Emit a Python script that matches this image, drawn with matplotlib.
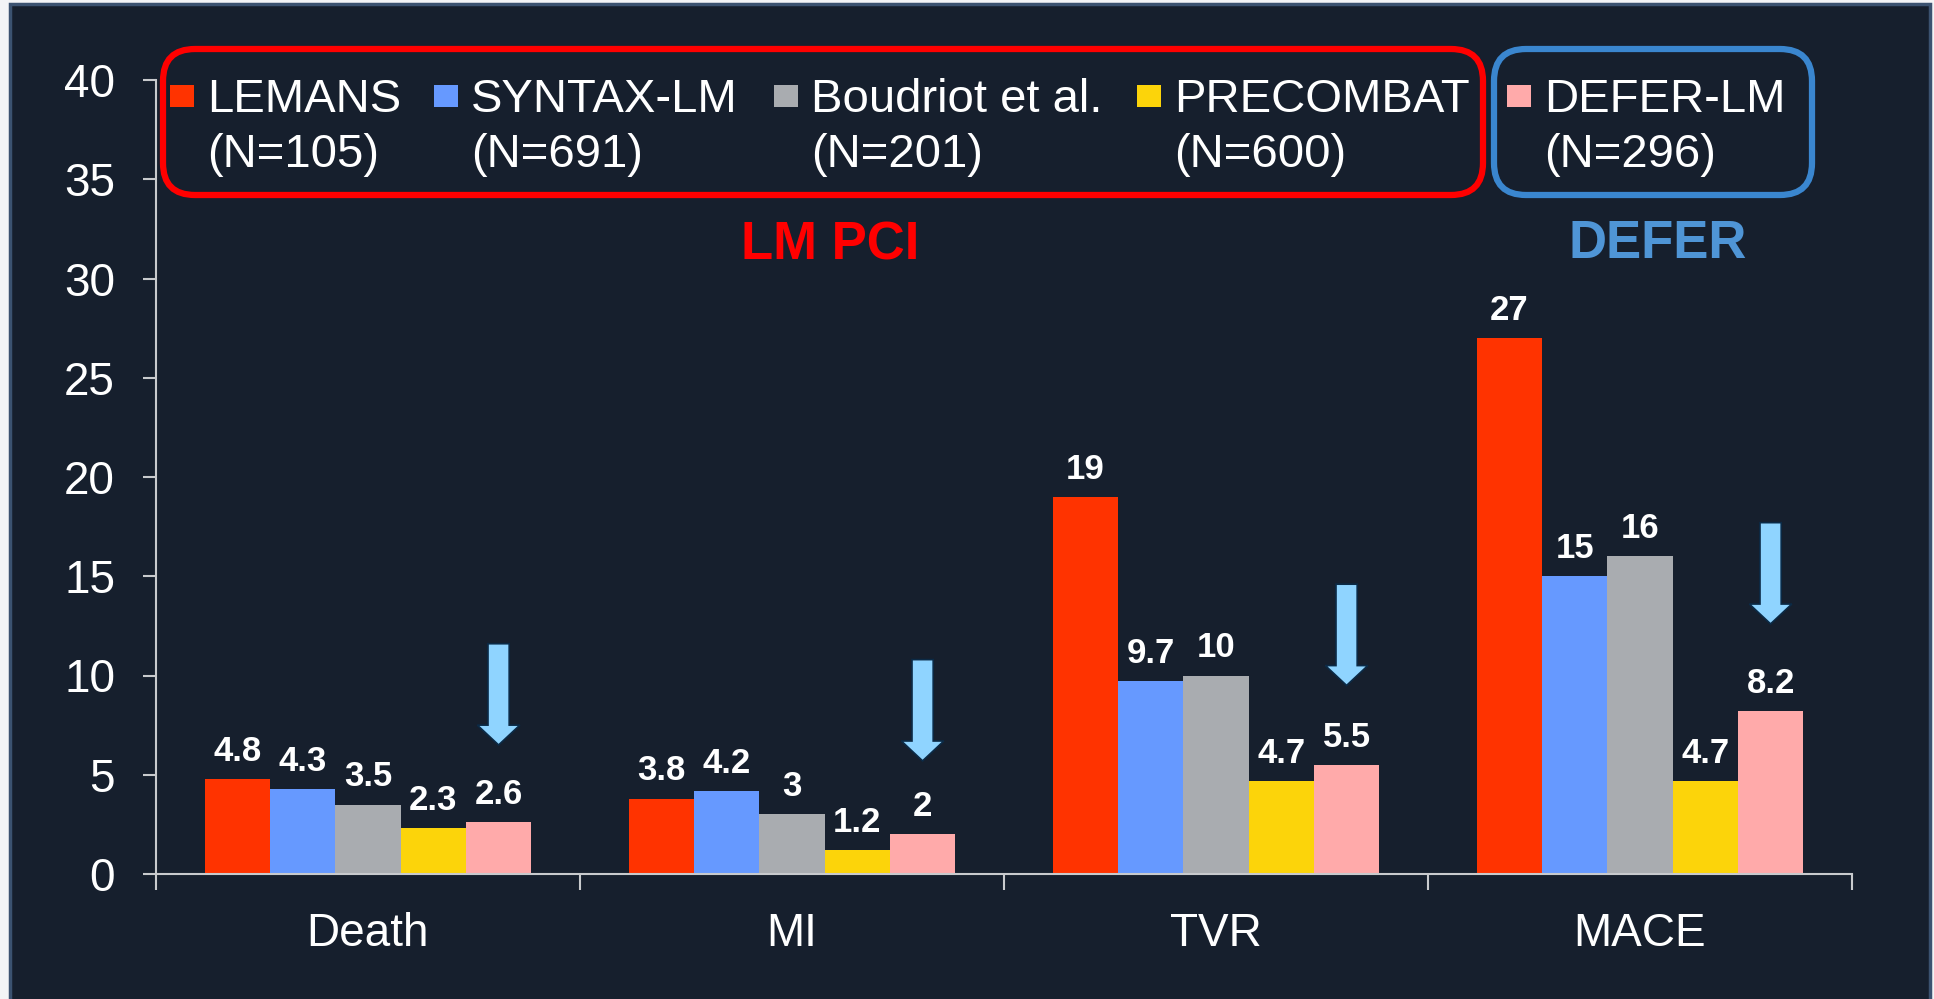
import matplotlib.pyplot as plt
import numpy as np
from matplotlib.patches import Rectangle, FancyBboxPatch, FancyArrow

plt.rcParams['font.family'] = ['Liberation Sans', 'DejaVu Sans']

categories = ["Death", "MI", "TVR", "MACE"]
studies = ["LEMANS", "SYNTAX-LM", "Boudriot et al.", "PRECOMBAT", "DEFER-LM"]
sizes = ["(N=105)", "(N=691)", "(N=201)", "(N=600)", "(N=296)"]
lemans = [4.8, 3.8, 19, 27]
syntax = [4.3, 4.2, 9.7, 15]
boudriot = [3.5, 3.0, 10, 16]
precombat = [2.3, 1.2, 4.7, 4.7]
defer = [2.6, 2.0, 5.5, 8.2]
arrow_tips = [6.5, 5.7, 9.5, 12.6]   # where the blue arrows point to

colors = ["#ff3300", "#6699ff", "#a9acb0", "#fcd40a", "#ffaaaa"]
bg = "#161f2d"
W, H = 1934, 999

fig = plt.figure(figsize=(W / 100, H / 100), dpi=100)
fig.patch.set_facecolor("#f3f4f6")
# dark slide panel behind everything
fig.add_artist(Rectangle((10 / W, -0.01), 1920 / W, 1 - 4 / H + 0.01, transform=fig.transFigure,
                         facecolor=bg, edgecolor="#3b5270", linewidth=2.5, zorder=-1))

ax = fig.add_axes([156 / W, 1 - 874 / H, (1852 - 156) / W, (874 - 80) / H])
ax.set_facecolor("none")

x = np.arange(len(categories))
bw = 0.154
series = [lemans, syntax, boudriot, precombat, defer]
for i, vals in enumerate(series):
    bars = ax.bar(x + (i - 2) * bw, vals, bw, color=colors[i], zorder=2)
    ax.bar_label(bars, fmt="%g", padding=8, color="white", fontsize=25, fontweight="bold")

# arrows above DEFER-LM bars
for xi, tip in zip(x + 2 * bw, arrow_tips):
    ax.add_patch(FancyArrow(xi, tip + 5.1, 0, -5.1, width=0.05, head_width=0.1, head_length=1.0,
                            length_includes_head=True, facecolor="#8fd4ff", edgecolor="#0b2a46",
                            linewidth=1.2, zorder=3))

ax.set_xlim(-0.5, 3.5)
ax.set_ylim(0, 40)
ax.set_yticks(np.arange(0, 41, 5))
ax.set_xticks(x)
ax.set_xticklabels(categories)
ax.set_xticks(np.arange(-0.5, 3.6, 1), minor=True)
for s in ["top", "right"]:
    ax.spines[s].set_visible(False)
for s in ["left", "bottom"]:
    ax.spines[s].set_color("#c8cacd")
    ax.spines[s].set_linewidth(1.5)
ax.tick_params(axis="y", colors="#c8cacd", labelcolor="white", labelsize=33, length=9.5, width=1.5, pad=20)
ax.tick_params(axis="x", which="major", length=0, labelcolor="white", labelsize=33, pad=27)
ax.tick_params(axis="x", which="minor", colors="#c8cacd", length=11.5, width=1.5)

# overlay in pixel coordinates for the grouped legend
ov = fig.add_axes([0, 0, 1, 1], zorder=5)
ov.set_xlim(0, W)
ov.set_ylim(H, 0)
ov.axis("off")
ov.add_patch(FancyBboxPatch((163, 49), 1320, 146, boxstyle="round,pad=0,rounding_size=32",
                            facecolor="none", edgecolor="#ff0000", linewidth=4.5))
ov.add_patch(FancyBboxPatch((1494, 49), 318, 146, boxstyle="round,pad=0,rounding_size=32",
                            facecolor="none", edgecolor="#3a86cf", linewidth=4.5))
sq_x = [170, 434, 774, 1137, 1507]
for sx, c, name, n in zip(sq_x, colors, studies, sizes):
    ov.add_patch(Rectangle((sx, 85), 24, 22, facecolor=c, edgecolor="none"))
    ov.text(sx + 37, 112, name, color="white", fontsize=34, va="baseline", ha="left")
    ov.text(sx + 37, 167, n, color="white", fontsize=34, va="baseline", ha="left")

ov.text(830, 246, "LM PCI", color="#ff0000", fontsize=38, fontweight="bold", ha="center", va="center")
ov.text(1658, 244, "DEFER", color="#4f95d6", fontsize=38, fontweight="bold", ha="center", va="center")

fig.savefig("out.png", dpi=100, facecolor=fig.get_facecolor())
